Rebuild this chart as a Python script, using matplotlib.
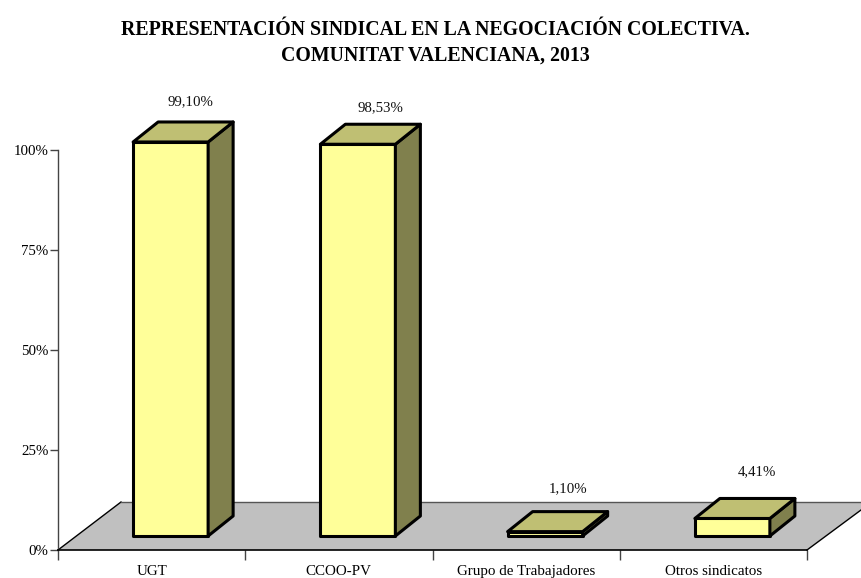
"""Representacion sindical, falsche 3D-Balken wie im Original (Excel)."""

import matplotlib
matplotlib.use('Agg')
import matplotlib.pyplot as plt
from matplotlib.patches import Polygon

categories = ['UGT', 'CCOO-PV', 'Grupo de Trabajadores', 'Otros sindicatos']
values = [99.10, 98.53, 1.10, 4.41]
value_labels = ['99,10%', '98,53%', '1,10%', '4,41%']
y_ticks = [0, 25, 50, 75, 100]
y_tick_labels = ['0%', '25%', '50%', '75%', '100%']

W, H = 861, 578
plt.rcParams['font.family'] = ['Liberation Serif', 'DejaVu Serif']

fig = plt.figure(figsize=(W / 100, H / 100), dpi=100)
# 0% bei y=550 px, 100% bei y=150 px
ax = fig.add_axes([58 / W, 1 - 550 / H, 749 / W, 400 / H])
ax.set_xlim(-0.5, 3.5)
ax.set_ylim(0, 100)
ax.patch.set_visible(False)

px_x = 4 / 749  # data units per pixel, x
px_y = 100 / 400  # data units per pixel, y

# floor of the 3D box
floor_dx, floor_dy = 63 * px_x, 48 * px_y
floor = Polygon([(-0.5, 0), (-0.5 + floor_dx, floor_dy), (3.5 + 54 * px_x, floor_dy),
                 (3.5 + 54 * px_x, 40 * px_y), (3.5, 0)],
                closed=True, facecolor='#c0c0c0', edgecolor='none', clip_on=False, zorder=1)
ax.add_patch(floor)
ax.plot([-0.5, -0.5 + floor_dx], [0, floor_dy], color='black', lw=1, clip_on=False, zorder=2)
ax.plot([3.5, 3.5 + 54 * px_x], [0, 40 * px_y], color='black', lw=1, clip_on=False, zorder=2)
ax.plot([-0.5 + floor_dx, 3.5 + 54 * px_x], [floor_dy, floor_dy], color='#555555', lw=1,
        clip_on=False, zorder=2)

# bars
bar_w = 75 * px_x
depth_x, depth_y = 25 * px_x, 20 * px_y
base = 14 * px_y
shift = 19 * px_x
edge = dict(edgecolor='black', linewidth=2.2, joinstyle='round', clip_on=False, zorder=3)

# Excel setzt die Beschriftungen nicht ganz gleichmaessig (Pixel)
label_dx = [39, 42, 42, 44]
label_gap = [40, 37, 43, 47]

for i, v in enumerate(values):
    x0 = i + shift - bar_w / 2
    x1 = x0 + bar_w
    top = base + v * 0.994
    ax.add_patch(Polygon([(x0, base), (x1, base), (x1, top), (x0, top)],
                         facecolor='#ffff99', **edge))
    ax.add_patch(Polygon([(x1, base), (x1 + depth_x, base + depth_y),
                          (x1 + depth_x, top + depth_y), (x1, top)],
                         facecolor='#80804d', **edge))
    ax.add_patch(Polygon([(x0, top), (x0 + depth_x, top + depth_y),
                          (x1 + depth_x, top + depth_y), (x1, top)],
                         facecolor='#bfbf73', **edge))
    ax.text(i + label_dx[i] * px_x, top + label_gap[i] * px_y, value_labels[i],
            ha='center', va='center', fontsize=10.7, color='#111111', clip_on=False)

# axes
ax.spines[['top', 'right']].set_visible(False)
ax.spines['left'].set_color('#444444')
ax.spines['left'].set_linewidth(1)
ax.spines['bottom'].set_color('black')
ax.spines['bottom'].set_linewidth(1.2)
ax.spines['bottom'].set_zorder(2.5)

ax.set_yticks(y_ticks)
ax.set_yticklabels(y_tick_labels, fontsize=10.7)
ax.tick_params(axis='y', length=6, width=1, color='#444444', pad=1)

ax.set_xticks([-0.5, 0.5, 1.5, 2.5, 3.5])
ax.set_xticklabels([])
ax.tick_params(axis='x', length=7, width=1, color='#444444')
for i, name in enumerate(categories):
    ax.text(i, -5.4, name, ha='center', va='center', fontsize=10.8, clip_on=False)

fig.text(435 / W, 1 - 43 / H, 'REPRESENTACIÓN SINDICAL EN LA NEGOCIACIÓN COLECTIVA.\nCOMUNITAT VALENCIANA, 2013',
         ha='center', va='center', fontsize=14.3, fontweight='bold', linespacing=1.4)

fig.savefig('out.png', dpi=100)
